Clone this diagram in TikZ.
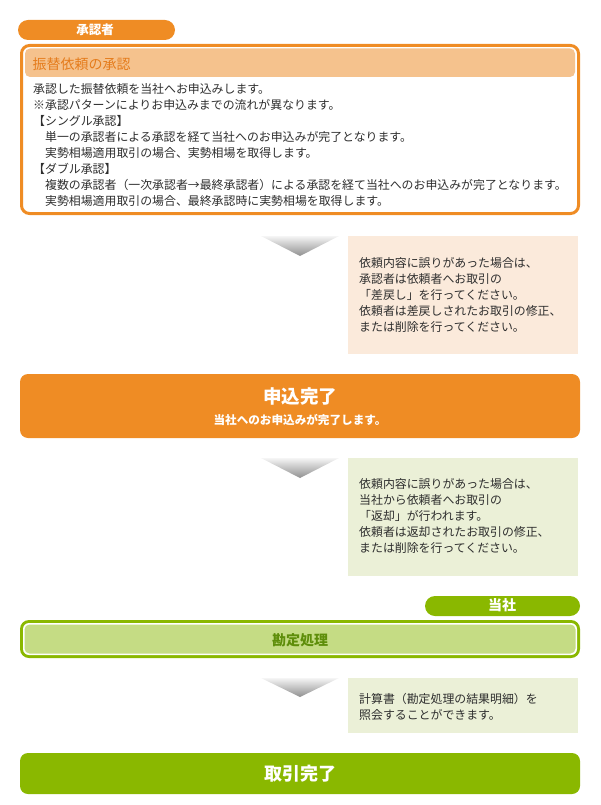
\documentclass[tikz,border=0pt]{standalone}
\usepackage{fontspec}
\usetikzlibrary{calc}
\setmainfont{Noto Sans CJK JP}
\definecolor{org}{HTML}{EF8C24}
\definecolor{orghead}{HTML}{F5C28D}
\definecolor{orgtext}{HTML}{E57C1C}
\definecolor{note1}{HTML}{FBEADB}
\definecolor{grn}{HTML}{8AB800}
\definecolor{grnlight}{HTML}{C5DC84}
\definecolor{note2}{HTML}{EBF0D7}
\definecolor{grntext}{HTML}{5E8E0A}
\definecolor{bodytext}{HTML}{2E2E2E}
\tikzset{
  txt/.style={inner sep=0pt, anchor=base},
  body/.style={inner sep=0pt, anchor=west, text=bodytext, align=left, font=\fontsize{11.9}{15.86}\selectfont},
  downarrow/.style={top color=gray!8, bottom color=gray!75!black!70, draw=none}
}
\begin{document}
\begin{tikzpicture}[x=1pt,y=-1pt]
\useasboundingbox (0,0) rectangle (600,805);
% --- approver tag
\fill[org, rounded corners=10pt] (18,20) rectangle (175,40);
\node[txt, text=white, font=\fontsize{12.5}{12.5}\bfseries] (tag1) at (95,34.5) {承認者};
% --- approval box
\draw[org, line width=3pt, fill=white, rounded corners=8pt] (21.5,45.5) rectangle (578.5,213.5);
\fill[orghead, rounded corners=5pt] (25,48.5) rectangle (575,77);
\node[txt, anchor=base west, text=orgtext, font=\fontsize{14}{14}\selectfont] (head1) at (32.3,69.5) {振替依頼の承認};
\node[body] (body1) at (33,145) {承認した振替依頼を当社へお申込みします。\\
※承認パターンによりお申込みまでの流れが異なります。\\
【シングル承認】\\
　単一の承認者による承認を経て当社へのお申込みが完了となります。\\
　実勢相場適用取引の場合、実勢相場を取得します。\\
【ダブル承認】\\
　複数の承認者（一次承認者→最終承認者）による承認を経て当社へのお申込みが完了となります。\\
　実勢相場適用取引の場合、最終承認時に実勢相場を取得します。};
% --- arrow 1 + note 1
\coordinate (a1) at (300,236);
\shade[downarrow] ($(a1)+(-39,0)$) -- ($(a1)+(39,0)$) -- ($(a1)+(0,20)$) -- cycle;
\fill[note1] (348,236) rectangle (578,354);
\node[body] (n1) at (359,295) {依頼内容に誤りがあった場合は、\\
承認者は依頼者へお取引の\\
「差戻し」を行ってください。\\
依頼者は差戻しされたお取引の修正、\\
または削除を行ってください。};
% --- application complete
\fill[org, rounded corners=8pt] (20,374) rectangle (580,438);
\node[txt, text=white, font=\fontsize{18.5}{18.5}\bfseries] (done1) at (300,403.5) {申込完了};
\node[txt, text=white, font=\fontsize{11.6}{11.6}\bfseries] (done1b) at (300,424.4) {当社へのお申込みが完了します。};
% --- arrow 2 + note 2
\coordinate (a2) at (300,458);
\shade[downarrow] ($(a2)+(-39,0)$) -- ($(a2)+(39,0)$) -- ($(a2)+(0,20)$) -- cycle;
\fill[note2] (348,458) rectangle (578,576);
\node[body] (n2) at (359,516) {依頼内容に誤りがあった場合は、\\
当社から依頼者へお取引の\\
「返却」が行われます。\\
依頼者は返却されたお取引の修正、\\
または削除を行ってください。};
% --- company tag
\fill[grn, rounded corners=10pt] (425,596) rectangle (580,616);
\node[txt, text=white, font=\fontsize{14}{14}\bfseries] (tag2) at (502,610.5) {当社};
% --- accounting box
\fill[grn, rounded corners=9pt] (20,620) rectangle (580,658);
\fill[white, rounded corners=6pt] (23,623) rectangle (577,655);
\fill[grnlight, rounded corners=5pt] (24.5,624.5) rectangle (575.5,653.5);
\node[txt, text=grntext, font=\fontsize{14}{14}\bfseries] (acc) at (300,645.5) {勘定処理};
% --- arrow 3 + note 3
\coordinate (a3) at (300,678);
\shade[downarrow] ($(a3)+(-39,0)$) -- ($(a3)+(39,0)$) -- ($(a3)+(0,19)$) -- cycle;
\fill[note2] (348,678) rectangle (578,733);
\node[body] (n3) at (359,707) {計算書（勘定処理の結果明細）を\\
照会することができます。};
% --- transaction complete
\fill[grn, rounded corners=8pt] (20,753) rectangle (580,794);
\node[txt, text=white, font=\fontsize{18}{18}\bfseries] (done2) at (300,780.3) {取引完了};
\end{tikzpicture}
\end{document}
